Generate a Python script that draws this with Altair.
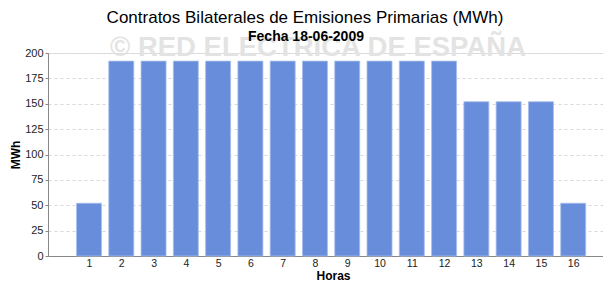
import altair as alt
import pandas as pd

horas = list(range(1, 17))
mwh = [52, 192, 192, 192, 192, 192, 192, 192, 192, 192, 192, 192, 152, 152, 152, 52]
y_ticks = [0, 25, 50, 75, 100, 125, 150, 175, 200]

titulo = "Contratos Bilaterales de Emisiones Primarias (MWh)"
subtitulo = "Fecha 18-06-2009"
marca = "© RED ELECTRICA DE ESPAÑA"

df = pd.DataFrame({"Horas": horas, "MWh": mwh})
one = pd.DataFrame({"k": [0]})

FONT = "Liberation Sans"
W, H = 555, 203

bars = alt.Chart(df).mark_bar(size=25, color="#688ddb", stroke="#a8bfee", strokeWidth=0.8).encode(
    x=alt.X("Horas:Q",
            scale=alt.Scale(domain=[-0.27, 16.923], nice=False, zero=False, padding=0),
            axis=alt.Axis(values=horas, title="Horas", grid=False, ticks=False,
                          labelFont=FONT, labelFontSize=10.5, labelColor="#222",
                          labelPadding=2, titleFont=FONT, titleFontSize=12,
                          titleFontWeight="bold", titleColor="#000",
                          titleX=285, titleY=23.5, titleBaseline="alphabetic",
                          domainColor="#888")),
    y=alt.Y("MWh:Q",
            scale=alt.Scale(domain=[0, 200], nice=False),
            axis=alt.Axis(values=y_ticks, title="MWh", grid=True, gridDash=[3, 3],
                          gridColor="#d8d8d8", tickSize=3, tickColor="#888",
                          labelFont=FONT, labelFontSize=11, labelColor="#222",
                          titleFont=FONT, titleFontSize=12, titleFontWeight="bold",
                          titleColor="#000", titleX=-33, titleBaseline="middle",
                          domainColor="#888")),
)

watermark = alt.Chart(one).mark_text(text=marca, font=FONT, fontSize=27.5,
                                     fontWeight="bold", color="#e3e3e3", align="center",
                                     baseline="middle").encode(
    x=alt.value(270), y=alt.value(-5))

title = alt.Chart(one).mark_text(text=titulo, font=FONT, fontSize=17, color="#000",
                                 align="center", baseline="middle").encode(
    x=alt.value(257), y=alt.value(-35))

subtitle = alt.Chart(one).mark_text(text=subtitulo, font=FONT, fontSize=14, fontWeight="bold",
                                    color="#000", align="center",
                                    baseline="middle").encode(
    x=alt.value(258), y=alt.value(-16))

chart = alt.layer(watermark, bars, title, subtitle).properties(
    width=W, height=H,
    autosize=alt.AutoSizeParams(type="none"),
    padding={"left": 40, "top": 45, "right": 0, "bottom": 25},
).configure_view(stroke=None).configure(background="white")

chart.save("out.html", embed_options={"renderer": "svg", "actions": False})
